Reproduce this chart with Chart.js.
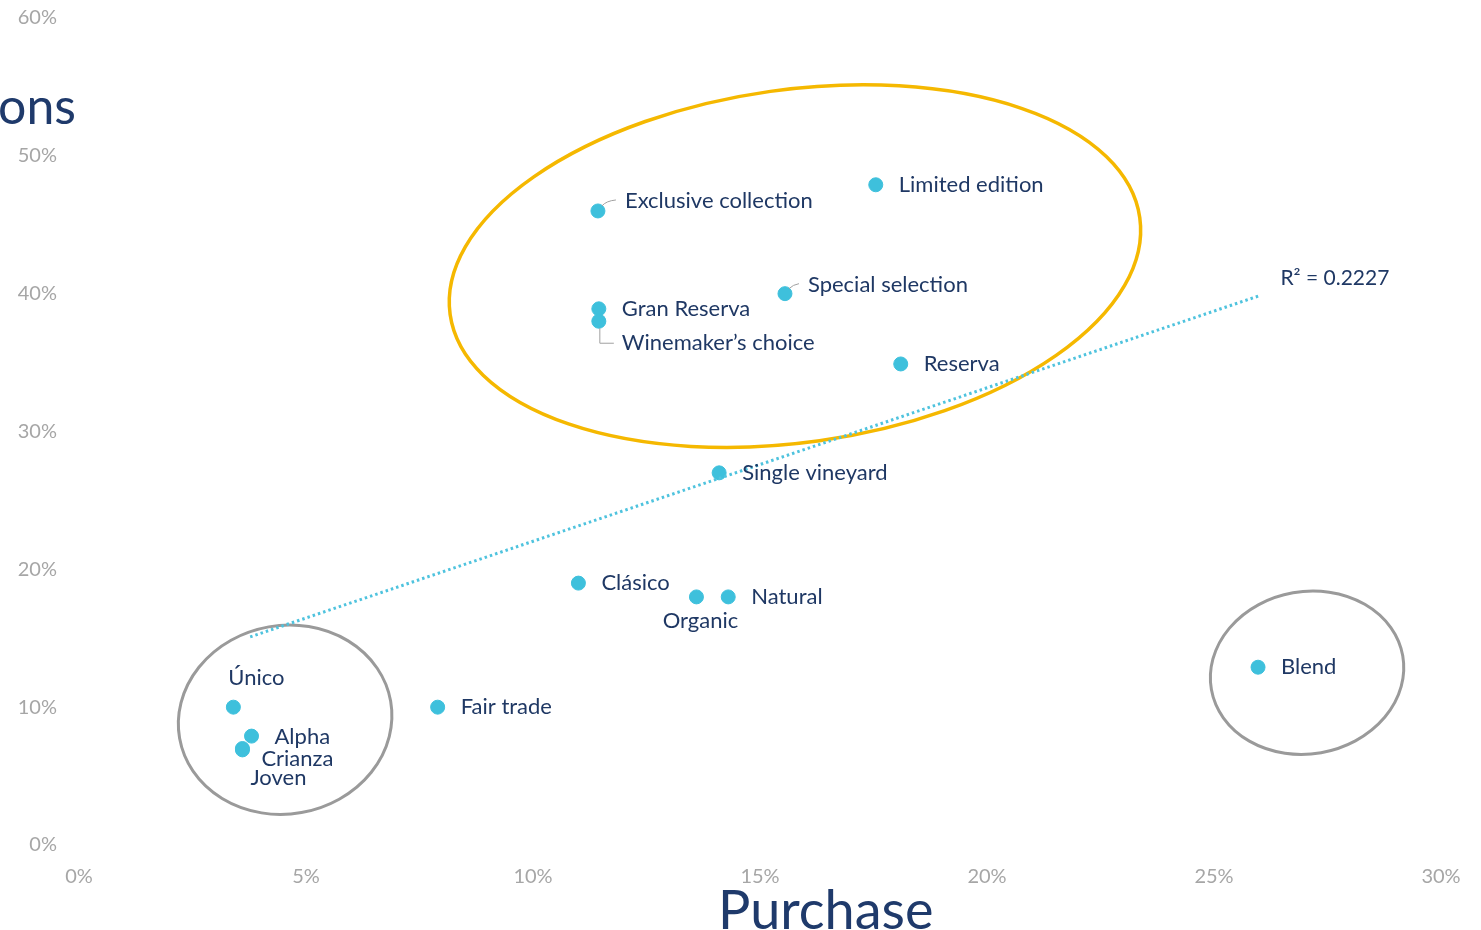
<!DOCTYPE html>
<html>
<head>
<meta charset="utf-8">
<script src="https://cdn.jsdelivr.net/npm/chart.js@4.4.0/dist/chart.umd.min.js"></script>
<style>
  html, body { margin: 0; padding: 0; background: #fff; }
  #wrap { position: relative; width: 1481px; height: 930px; overflow: hidden; }
  .big { position: absolute; font-family: Lato, sans-serif; color: #1f3a6b; white-space: nowrap; }
</style>
</head>
<body>
<div id="wrap">
  <canvas id="chart" width="1481" height="930"></canvas>
  <div class="big" style="right:1405px; top:75px; font-size:50px;">ons</div>
  <div class="big" style="left:718px; top:876px; font-size:54px;">Purchase</div>
</div>
<script>
// Products: share of purchase (x) vs share of mentions (y)
const products = ['Único', 'Alpha', 'Crianza', 'Joven', 'Fair trade', 'Clásico', 'Organic', 'Natural',
    'Single vineyard', 'Reserva', 'Special selection', 'Gran Reserva', "Winemaker’s choice",
    'Exclusive collection', 'Limited edition', 'Blend'];
const purchase = [3.4, 3.8, 3.6, 3.6, 7.9, 11.0, 13.6, 14.3, 14.1, 18.1, 15.55, 11.45, 11.45, 11.43, 17.55, 25.97];
const mentions = [10.0, 7.9, 7.0, 6.9, 10.0, 19.0, 18.0, 18.0, 27.0, 34.9, 40.0, 38.9, 38.0, 46.0, 47.9, 12.9];

// linear trend line end points, as shown
const trendX = [3.77, 26.0];
const trendY = [15.1, 39.85];
const rSquared = 'R² = 0.2227';

const xTicks = [0, 5, 10, 15, 20, 25, 30];
const yTicks = [0, 10, 20, 30, 40, 50, 60];

// label placement in px relative to the dot
const labelPos = {
    'Único': { dx: -5, dy: -29 },
    'Alpha': { dx: 23, dy: 1 },
    'Crianza': { dx: 19, dy: 10 },
    'Joven': { dx: 8, dy: 28 },
    'Organic': { dx: 4, dy: 24, align: 'center' },
    'Special selection': { dx: 23, dy: -9, hook: 'up' },
    "Winemaker’s choice": { dx: 23, dy: 22, hook: 'down' },
    'Exclusive collection': { dx: 27, dy: -10, hook: 'up' }
};

const ellipses = [
    { cx: 15.77, cy: 42.0, rx: 7.67, ry: 12.8, rot: -8, color: '#f5b800', width: 3.5 },
    { cx: 4.54, cy: 9.09, rx: 2.36, ry: 6.84, rot: -10, color: '#9a9a9a', width: 3 },
    { cx: 27.05, cy: 12.5, rx: 2.14, ry: 5.89, rot: -10, color: '#9a9a9a', width: 3 }
];

const navy = '#1f3864';
const dotColor = '#3ec0dc';

const overlay = {
    id: 'overlay',
    beforeDatasetsDraw(chart) {
        const { ctx, scales: { x, y } } = chart;
        const px = x.getPixelForValue(1) - x.getPixelForValue(0);
        const py = y.getPixelForValue(0) - y.getPixelForValue(1);
        ellipses.forEach(e => {
            ctx.save();
            ctx.beginPath();
            ctx.ellipse(x.getPixelForValue(e.cx), y.getPixelForValue(e.cy), e.rx * px, e.ry * py,
                e.rot * Math.PI / 180, 0, Math.PI * 2);
            ctx.strokeStyle = e.color;
            ctx.lineWidth = e.width;
            ctx.stroke();
            ctx.restore();
        });
    },
    afterDatasetsDraw(chart) {
        const { ctx, scales: { x, y } } = chart;
        ctx.save();
        ctx.font = '22px Lato, sans-serif';
        ctx.fillStyle = navy;
        ctx.textBaseline = 'middle';
        products.forEach((name, i) => {
            const p = labelPos[name] || { dx: 23, dy: 0 };
            const cx = x.getPixelForValue(purchase[i]);
            const cy = y.getPixelForValue(mentions[i]);
            ctx.textAlign = p.align || 'left';
            ctx.fillText(name, cx + p.dx, cy + p.dy);
            if (p.hook) {
                ctx.beginPath();
                ctx.strokeStyle = '#a0a0a0';
                ctx.lineWidth = 1;
                if (p.hook === 'up') {
                    ctx.moveTo(cx + 4, cy - 5);
                    ctx.quadraticCurveTo(cx + 8, cy + p.dy, cx + p.dx - 9, cy + p.dy - 1);
                } else {
                    ctx.moveTo(cx + 1, cy + 7);
                    ctx.lineTo(cx + 1, cy + p.dy);
                    ctx.lineTo(cx + p.dx - 8, cy + p.dy);
                }
                ctx.stroke();
            }
        });
        ctx.font = '21px Lato, sans-serif';
        ctx.textAlign = 'left';
        ctx.fillText(rSquared, x.getPixelForValue(trendX[1]) + 21, y.getPixelForValue(trendY[1]) - 17);
        ctx.restore();
    }
};

new Chart(document.getElementById('chart'), {
    type: 'scatter',
    data: {
        datasets: [
            {
                label: 'Trend',
                type: 'line',
                data: trendX.map((v, i) => ({ x: v, y: trendY[i] })),
                borderColor: '#4fc3de',
                borderWidth: 3,
                borderDash: [2.5, 3],
                pointRadius: 0,
                fill: false
            },
            {
                label: 'Products',
                data: purchase.map((v, i) => ({ x: v, y: mentions[i] })),
                backgroundColor: dotColor,
                borderColor: dotColor,
                pointRadius: 7,
                pointHoverRadius: 7
            }
        ]
    },
    options: {
        responsive: false,
        animation: false,
        layout: { padding: { top: 18, right: 40, left: 0, bottom: 0 } },
        plugins: { legend: { display: false }, tooltip: { enabled: false } },
        scales: {
            x: {
                type: 'linear', min: 0, max: 30,
                afterBuildTicks: s => { s.ticks = xTicks.map(v => ({ value: v })); },
                afterFit: s => { s.height = 85; },
                grid: { display: false, drawTicks: false },
                border: { display: false },
                ticks: { padding: 20, color: '#a6a6a6', font: { family: 'Lato', size: 20 }, callback: v => v + '%' }
            },
            y: {
                type: 'linear', min: 0, max: 60,
                afterBuildTicks: s => { s.ticks = yTicks.map(v => ({ value: v })); },
                afterFit: s => { s.width = 79; s.paddingTop = 0; },
                grid: { display: false, drawTicks: false },
                border: { display: false },
                ticks: { padding: 22, color: '#a6a6a6', font: { family: 'Lato', size: 20 }, callback: v => v + '%' }
            }
        }
    },
    plugins: [overlay]
});
</script>
</body>
</html>
